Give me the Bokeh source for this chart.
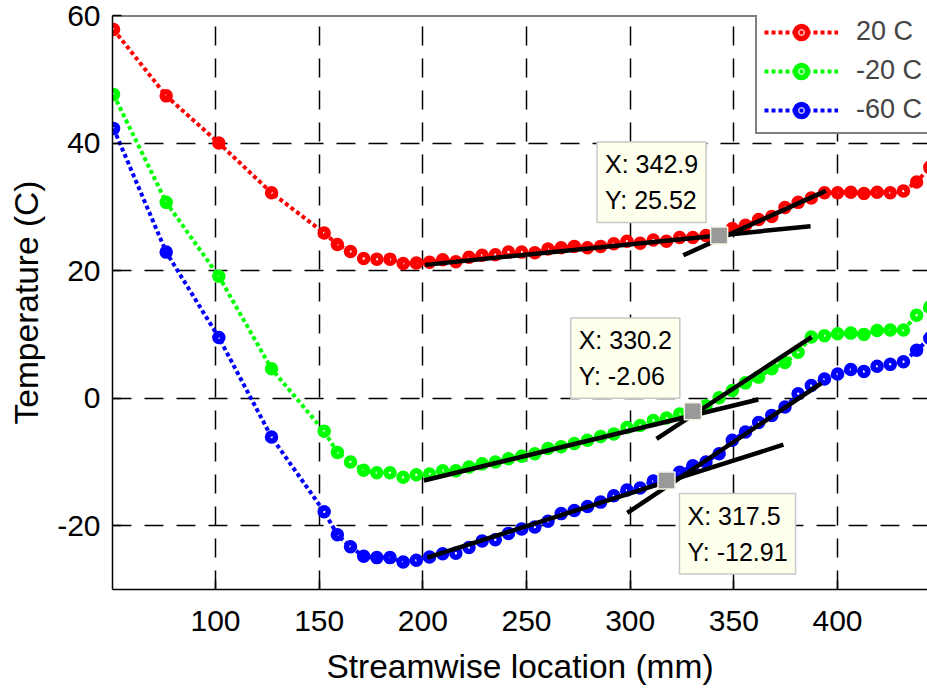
from bokeh.plotting import figure
from bokeh.models import (FixedTicker, Legend, LegendItem, Label, Span,
                          Range1d, ColumnDataSource)
from bokeh.embed import file_html
from bokeh.resources import INLINE

# ---------------- data ----------------
x_mm = [50.8, 76.2, 101.6, 127.0, 152.4,
        158.75, 165.1, 171.45, 177.8, 184.15, 190.5, 196.85, 203.2, 209.55, 215.9,
        222.25, 228.6, 234.95, 241.3, 247.65, 254.0, 260.35, 266.7, 273.05, 279.4,
        285.75, 292.1, 298.45, 304.8, 311.15, 317.5, 323.85, 330.2, 336.55, 342.9,
        349.25, 355.6, 361.95, 368.3, 374.65, 381.0, 387.35, 393.7, 400.05, 406.4,
        412.75, 419.1, 425.45, 431.8, 438.15, 444.5]

t_20 = [57.8, 47.4, 40.0, 32.2, 25.9,
        24.1, 23.0, 21.9, 21.8, 21.8, 21.1, 21.2, 21.3, 21.7, 21.4,
        22.1, 22.4, 22.5, 22.9, 22.9, 22.8, 23.4, 23.6, 23.8, 23.6,
        23.8, 24.2, 24.6, 24.3, 24.8, 24.6, 25.2, 25.2, 25.5, 25.52,
        26.6, 27.1, 28.0, 28.5, 29.9, 30.7, 31.4, 32.2, 32.2, 32.3,
        32.1, 32.3, 32.2, 32.5, 33.9, 36.2]

t_m20 = [47.6, 30.7, 19.1, 4.6, -5.2,
         -8.5, -10.0, -11.3, -11.7, -11.7, -12.4, -12.0, -11.9, -11.4, -11.4,
         -10.8, -10.3, -10.0, -9.5, -9.1, -8.7, -7.9, -7.6, -7.1, -6.6,
         -6.0, -5.6, -4.6, -4.3, -3.5, -3.1, -2.5, -2.06, -1.2, 0.06,
         1.2, 2.4, 3.3, 4.6, 5.6, 7.2, 9.6, 9.8, 10.1, 10.2,
         10.0, 10.6, 10.7, 10.7, 13.0, 14.3]

t_m60 = [42.3, 22.9, 9.5, -6.1, -17.8,
         -21.4, -23.3, -24.8, -25.0, -25.0, -25.7, -25.4, -24.9, -24.4, -24.3,
         -23.4, -22.4, -22.2, -21.2, -20.5, -20.2, -19.3, -18.1, -17.6, -17.0,
         -16.3, -15.3, -14.4, -14.1, -13.0, -12.91, -11.6, -10.6, -10.0, -8.7,
         -6.6, -5.3, -3.8, -2.7, -1.4, 0.7, 2.0, 3.0, 3.8, 4.5,
         4.2, 5.0, 5.3, 5.7, 7.5, 9.4]

series_labels = ["20 C", "-20 C", "-60 C"]
series_colors = ["#ff0000", "#00ff00", "#0000ff"]

# fitted tangent lines (two per curve)
fit_x0 = [201.0, 325.6, 200.5, 312.7, 202.1, 298.6]
fit_y0 = [20.9, 22.4, -12.9, -6.4, -25.0, -18.0]
fit_x1 = [387.0, 394.3, 361.8, 387.6, 373.9, 392.3]
fit_y1 = [26.96, 32.5, -0.2, 9.6, -7.3, 2.35]

# data tips
tip_x = [342.9, 330.2, 317.5]
tip_y = [25.52, -2.06, -12.91]

x_ticks = [100, 150, 200, 250, 300, 350, 400]
y_ticks = [-20, 0, 20, 40, 60]
y_tick_labels = ["-20", "0", "20", "40", "60"]

FONT = "Liberation Sans"

p = figure(width=927, height=691,
           x_range=Range1d(50.3, 443.4), y_range=Range1d(-30, 60),
           output_backend="svg", toolbar_location=None,
           min_border_left=112, min_border_right=0,
           min_border_top=15, min_border_bottom=102)
p.outline_line_color = None
p.background_fill_color = "white"

for ax, ticks in ((p.xaxis[0], x_ticks), (p.yaxis[0], y_ticks)):
    ax.ticker = FixedTicker(ticks=ticks)
    ax.major_tick_in = 9
    ax.major_tick_out = 0
    ax.minor_tick_line_color = None
    ax.axis_line_width = 1.5
    ax.major_tick_line_width = 1.5
    ax.axis_line_color = "black"
    ax.major_tick_line_color = "black"
    ax.major_label_text_font = FONT
    ax.major_label_text_font_size = "30px"
    ax.major_label_text_color = "black"
    ax.axis_label_text_font = FONT
    ax.axis_label_text_font_size = "33.5px"
    ax.axis_label_text_font_style = "normal"
    ax.axis_label_text_color = "black"

p.yaxis.major_label_overrides = {t: s for t, s in zip(y_ticks, y_tick_labels)}
p.xaxis.axis_label = "Streamwise location (mm)"
p.yaxis.axis_label = "Temperature (C)"
p.xaxis.major_label_standoff = 21
p.xaxis.axis_label_standoff = 14
p.yaxis.major_label_standoff = 12
p.yaxis.axis_label_standoff = 9

p.add_layout(Span(location=60, dimension="width", line_color="black", line_width=2))

p.xgrid.ticker = FixedTicker(ticks=x_ticks)
p.ygrid.ticker = FixedTicker(ticks=y_ticks)
for g in (p.xgrid[0], p.ygrid[0]):
    g.grid_line_color = "black"
    g.grid_line_dash = "19 13"
    g.grid_line_width = 1.5
    g.grid_line_alpha = 1.0

items = []
for ys, lab, col in zip([t_20, t_m20, t_m60], series_labels, series_colors):
    src = ColumnDataSource(dict(x=x_mm, y=ys))
    ln = p.line("x", "y", source=src, line_color=col, line_width=4, line_dash="4 3")
    sc = p.scatter("x", "y", source=src, marker="circle", size=8, line_color=col,
                   line_width=5.5, fill_color=None)
    items.append(LegendItem(label=lab, renderers=[ln, sc]))

p.segment(x0=fit_x0, y0=fit_y0, x1=fit_x1, y1=fit_y1, line_color="black", line_width=4.5)
p.scatter(x=tip_x, y=tip_y, marker="square", size=17, fill_color="#999999",
          line_color="#f4f4e4", line_width=1.5)

anchors = ["bottom_right", "bottom_right", "top_left"]
offsets = [(-13, 13), (-13, 13), (13, -13)]
for tx, ty, anc, (ox, oy) in zip(tip_x, tip_y, anchors, offsets):
    lbl = Label(x=tx, y=ty, x_offset=ox, y_offset=oy,
                text=f"X: {tx:.4g}\nY: {ty:.4g}", anchor=anc, padding=8,
                text_font=FONT, text_font_size="25px", text_line_height=1.3,
                text_color="black", background_fill_color="#ffffee",
                border_line_color="#c8c8c8", border_line_width=1.5)
    p.add_layout(lbl)

legend = Legend(items=items, location=(643, 455), glyph_width=74, glyph_height=30,
                label_standoff=18, spacing=8, padding=7, margin=0,
                label_text_font=FONT, label_text_font_size="27px",
                label_width=80, label_height=30,
                border_line_color="black", border_line_width=2,
                background_fill_color="white", background_fill_alpha=1.0)
p.add_layout(legend)

open("out.html", "w").write(file_html(p, INLINE))
